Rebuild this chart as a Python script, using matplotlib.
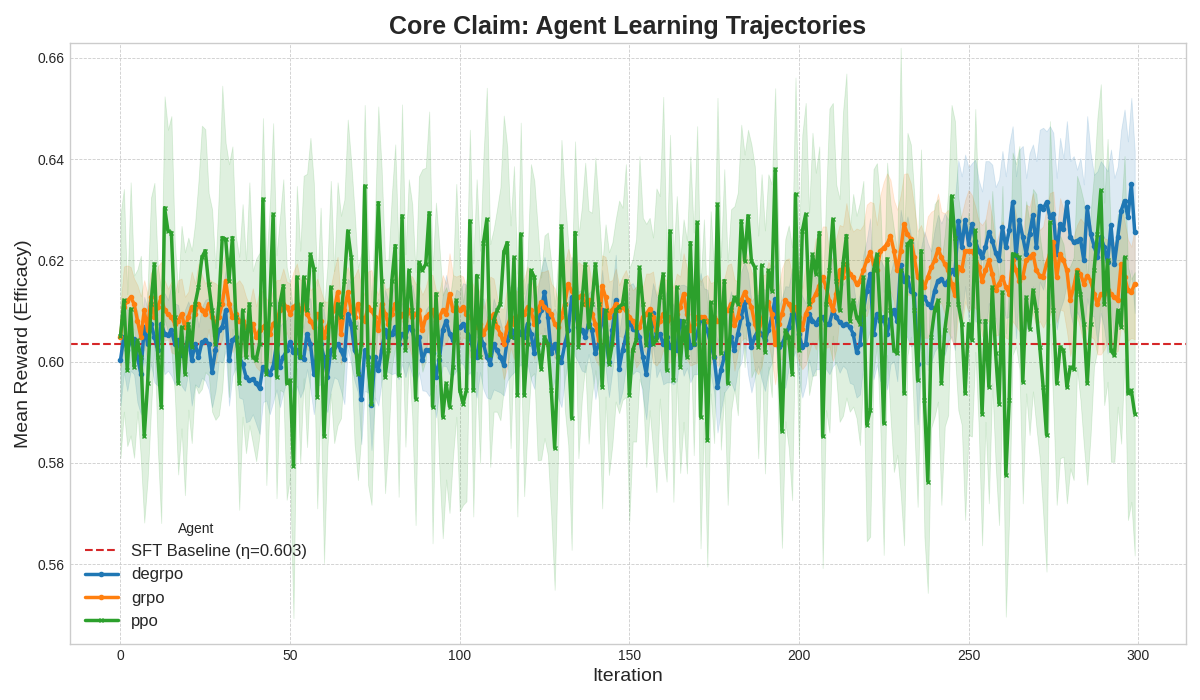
import matplotlib.pyplot as plt
import numpy as np

# iterations 0..299
iterations = np.arange(300)

sft_baseline = 0.6034

# mean reward per iteration
degrpo_mean = [
    0.6003, 0.6049, 0.6022, 0.6042, 0.6045, 0.6009, 0.5976, 0.6068, 0.6035, 0.6075,
    0.6049, 0.6022, 0.6075, 0.6055, 0.6052, 0.6062, 0.6035, 0.6042, 0.6012, 0.6022,
    0.6049, 0.6003, 0.6035, 0.6009, 0.6038, 0.6042, 0.6035, 0.5980, 0.6022, 0.6062,
    0.6068, 0.6101, 0.6003, 0.6042, 0.6049, 0.6009, 0.5996, 0.5970, 0.5963, 0.5966,
    0.5957, 0.5947, 0.5990, 0.5983, 0.5976, 0.5990, 0.6035, 0.5990, 0.6009, 0.6022,
    0.6038, 0.6019, 0.6022, 0.6009, 0.6006, 0.6055, 0.6035, 0.5976, 0.6022, 0.6035,
    0.6009, 0.5970, 0.6022, 0.6029, 0.6035, 0.6022, 0.6006, 0.6094, 0.6075, 0.6022,
    0.6009, 0.5927, 0.6022, 0.6009, 0.5915, 0.6009, 0.5983, 0.6022, 0.6062, 0.6049,
    0.6055, 0.6068, 0.6035, 0.6055, 0.6049, 0.6068, 0.6062, 0.6035, 0.6049, 0.6003,
    0.6022, 0.6022, 0.6016, 0.5970, 0.6003, 0.6062, 0.6081, 0.6055, 0.6042, 0.6062,
    0.6068, 0.6075, 0.6062, 0.6049, 0.6022, 0.6009, 0.6049, 0.6035, 0.6009, 0.5996,
    0.6035, 0.6022, 0.6009, 0.5993, 0.6042, 0.6062, 0.6049, 0.6068, 0.6055, 0.6049,
    0.6075, 0.6055, 0.6016, 0.6081, 0.6101, 0.6137, 0.6088, 0.6016, 0.6035, 0.6009,
    0.6000, 0.6035, 0.6062, 0.6127, 0.6101, 0.6068, 0.6062, 0.6049, 0.6075, 0.6062,
    0.6016, 0.6035, 0.6101, 0.6049, 0.6000, 0.6062, 0.6121, 0.5986, 0.6022, 0.6049,
    0.6081, 0.6065, 0.6062, 0.6049, 0.6009, 0.5976, 0.6035, 0.6095, 0.6049, 0.6055,
    0.6035, 0.6049, 0.6029, 0.6035, 0.6022, 0.6081, 0.6062, 0.6068, 0.6029, 0.6035,
    0.6055, 0.6085, 0.6075, 0.6062, 0.6035, 0.6009, 0.5950, 0.5983, 0.6009, 0.6029,
    0.6049, 0.6022, 0.6055, 0.6088, 0.6117, 0.6075, 0.6029, 0.6049, 0.6062, 0.6055,
    0.6042, 0.6062, 0.6088, 0.6124, 0.6029, 0.6035, 0.6049, 0.6068, 0.6094, 0.6101,
    0.6055, 0.6029, 0.6035, 0.6094, 0.6081, 0.6075, 0.6085, 0.6088, 0.6075, 0.6075,
    0.6101, 0.6088, 0.6078, 0.6072, 0.6075, 0.6068, 0.6055, 0.6019, 0.6035, 0.6101,
    0.6140, 0.6173, 0.6055, 0.6094, 0.6081, 0.6088, 0.6055, 0.6085, 0.6101, 0.6081,
    0.6190, 0.6160, 0.6167, 0.6140, 0.6134, 0.5996, 0.6114, 0.6127, 0.6114, 0.6108,
    0.6140, 0.6160, 0.6163, 0.6153, 0.6160, 0.6180, 0.6173, 0.6278, 0.6226, 0.6279,
    0.6233, 0.6272, 0.6239, 0.6219, 0.6206, 0.6226, 0.6256, 0.6239, 0.6215, 0.6200,
    0.6266, 0.6226, 0.6259, 0.6315, 0.6206, 0.6279, 0.6246, 0.6213, 0.6252, 0.6289,
    0.6226, 0.6308, 0.6302, 0.6315, 0.6285, 0.6292, 0.6213, 0.6272, 0.6262, 0.6315,
    0.6246, 0.6236, 0.6239, 0.6242, 0.6200, 0.6305, 0.6252, 0.6229, 0.6206, 0.6246,
    0.6226, 0.6196, 0.6269, 0.6193, 0.6246, 0.6298, 0.6318, 0.6285, 0.6351, 0.6256,
]

grpo_mean = [
    0.6049, 0.6108, 0.6120, 0.6127, 0.6114, 0.6081, 0.6049, 0.6101, 0.6062, 0.6127,
    0.6088, 0.6108, 0.6127, 0.6101, 0.6094, 0.6088, 0.6075, 0.6081, 0.6094, 0.6068,
    0.6088, 0.6108, 0.6094, 0.6114, 0.6101, 0.6094, 0.6114, 0.6088, 0.6075, 0.6088,
    0.6114, 0.6160, 0.6114, 0.6088, 0.6094, 0.6081, 0.6081, 0.6068, 0.6062, 0.6075,
    0.6049, 0.6062, 0.6068, 0.6075, 0.6055, 0.6075, 0.6081, 0.6101, 0.6114, 0.6108,
    0.6094, 0.6108, 0.6114, 0.6101, 0.6114, 0.6094, 0.6081, 0.6068, 0.6094, 0.6081,
    0.6049, 0.6068, 0.6088, 0.6101, 0.6137, 0.6055, 0.6101, 0.6137, 0.6101, 0.6088,
    0.6114, 0.6088, 0.6081, 0.6108, 0.6101, 0.6088, 0.6062, 0.6114, 0.6094, 0.6075,
    0.6094, 0.6114, 0.6088, 0.6094, 0.6081, 0.6101, 0.6088, 0.6094, 0.6101, 0.6062,
    0.6088, 0.6094, 0.6101, 0.6081, 0.6088, 0.6101, 0.6094, 0.6134, 0.6101, 0.6108,
    0.6101, 0.6108, 0.6094, 0.6088, 0.6081, 0.6068, 0.6075, 0.6055, 0.6068, 0.6088,
    0.6094, 0.6068, 0.6055, 0.6035, 0.6068, 0.6088, 0.6075, 0.6088, 0.6094, 0.6094,
    0.6108, 0.6101, 0.6075, 0.6101, 0.6117, 0.6108, 0.6101, 0.6094, 0.6075, 0.6068,
    0.6088, 0.6114, 0.6153, 0.6140, 0.6127, 0.6127, 0.6131, 0.6114, 0.6121, 0.6094,
    0.6075, 0.6042, 0.6150, 0.6127, 0.6088, 0.6101, 0.6114, 0.6101, 0.6108, 0.6101,
    0.6088, 0.6081, 0.6068, 0.6068, 0.6088, 0.6094, 0.6104, 0.6088, 0.6062, 0.6081,
    0.6094, 0.6081, 0.6088, 0.6075, 0.6094, 0.6108, 0.6134, 0.6094, 0.6062, 0.6075,
    0.6088, 0.6088, 0.6088, 0.6081, 0.6075, 0.6088, 0.6081, 0.6081, 0.6094, 0.6101,
    0.6114, 0.6072, 0.6088, 0.6121, 0.6137, 0.6121, 0.6108, 0.6075, 0.6055, 0.6081,
    0.6101, 0.6117, 0.6094, 0.6035, 0.6075, 0.6094, 0.6121, 0.6114, 0.6101, 0.6108,
    0.6088, 0.6065, 0.6094, 0.6108, 0.6121, 0.6134, 0.6150, 0.6167, 0.6147, 0.6120,
    0.6101, 0.6134, 0.6180, 0.6167, 0.6193, 0.6173, 0.6167, 0.6153, 0.6160, 0.6180,
    0.6200, 0.6216, 0.6193, 0.6180, 0.6219, 0.6225, 0.6232, 0.6249, 0.6219, 0.6180,
    0.6219, 0.6271, 0.6252, 0.6242, 0.6206, 0.6167, 0.6160, 0.6147, 0.6167, 0.6186,
    0.6200, 0.6222, 0.6206, 0.6193, 0.6180, 0.6153, 0.6131, 0.6186, 0.6180, 0.6219,
    0.6219, 0.6219, 0.6206, 0.6187, 0.6160, 0.6180, 0.6200, 0.6173, 0.6141, 0.6154,
    0.6167, 0.6147, 0.6134, 0.6200, 0.6180, 0.6160, 0.6167, 0.6200, 0.6206, 0.6213,
    0.6180, 0.6170, 0.6167, 0.6193, 0.6213, 0.6236, 0.6167, 0.6213, 0.6200, 0.6180,
    0.6121, 0.6147, 0.6180, 0.6173, 0.6154, 0.6170, 0.6160, 0.6134, 0.6114, 0.6134,
    0.6134, 0.6141, 0.6134, 0.6127, 0.6121, 0.6193, 0.6167, 0.6141, 0.6137, 0.6154,
]

ppo_mean = [
    0.6050, 0.6121, 0.5983, 0.6104, 0.5990, 0.6042, 0.6009, 0.5852, 0.5957, 0.6114,
    0.6193, 0.6009, 0.5911, 0.6304, 0.6258, 0.6255, 0.6088, 0.5957, 0.6068, 0.5976,
    0.6075, 0.6029, 0.6114, 0.6147, 0.6206, 0.6219, 0.6153, 0.6101, 0.6035, 0.6114,
    0.6245, 0.6242, 0.6160, 0.6245, 0.6088, 0.5957, 0.6101, 0.6009, 0.6114, 0.6009,
    0.6003, 0.6035, 0.6321, 0.5976, 0.6114, 0.6291, 0.5970, 0.6114, 0.6150, 0.5957,
    0.5963, 0.5793, 0.6167, 0.6009, 0.6167, 0.6101, 0.6212, 0.6183, 0.5930, 0.6114,
    0.5852, 0.6009, 0.6147, 0.6009, 0.6114, 0.6088, 0.6160, 0.6258, 0.6206, 0.6068,
    0.5976, 0.6035, 0.6347, 0.5996, 0.5917, 0.6114, 0.6314, 0.6160, 0.5970, 0.6022,
    0.6160, 0.6229, 0.5973, 0.6288, 0.6022, 0.6180, 0.6101, 0.5927, 0.6196, 0.6180,
    0.6193, 0.6294, 0.5911, 0.6134, 0.6009, 0.5891, 0.5957, 0.5911, 0.5990, 0.6121,
    0.5944, 0.5917, 0.5944, 0.6278, 0.5944, 0.6170, 0.6009, 0.6235, 0.6281, 0.6012,
    0.6081, 0.6101, 0.6114, 0.6216, 0.6235, 0.6049, 0.6206, 0.5934, 0.6252, 0.5934,
    0.6035, 0.6180, 0.6167, 0.6035, 0.5986, 0.6049, 0.6035, 0.5944, 0.5829, 0.6009,
    0.6268, 0.6114, 0.6035, 0.5888, 0.6255, 0.6029, 0.6114, 0.6193, 0.6068, 0.6114,
    0.6193, 0.6114, 0.5950, 0.6101, 0.5996, 0.6035, 0.6101, 0.6108, 0.6114, 0.6160,
    0.5934, 0.6022, 0.6042, 0.6186, 0.6114, 0.6032, 0.6094, 0.6035, 0.6042, 0.6127,
    0.6173, 0.5983, 0.6258, 0.5963, 0.6147, 0.5990, 0.6081, 0.6009, 0.6235, 0.6035,
    0.6275, 0.5891, 0.6081, 0.5845, 0.6117, 0.6009, 0.6311, 0.6016, 0.6160, 0.5957,
    0.6101, 0.6127, 0.6114, 0.6278, 0.6199, 0.6288, 0.6199, 0.6186, 0.6029, 0.6190,
    0.6019, 0.6180, 0.6140, 0.6380, 0.6035, 0.5862, 0.6062, 0.6049, 0.5976, 0.6331,
    0.6022, 0.6258, 0.6291, 0.6114, 0.6212, 0.6173, 0.6255, 0.5852, 0.6114, 0.6180,
    0.6281, 0.6160, 0.6101, 0.6193, 0.6249, 0.6081, 0.6121, 0.6088, 0.6075, 0.6167,
    0.5875, 0.5904, 0.6180, 0.6212, 0.6088, 0.5878, 0.6203, 0.6101, 0.6022, 0.6016,
    0.6180, 0.5937, 0.6232, 0.6239, 0.6101, 0.5963, 0.6219, 0.5924, 0.5763, 0.6049,
    0.6101, 0.6121, 0.5957, 0.6062, 0.6114, 0.6327, 0.6245, 0.6114, 0.6075, 0.5937,
    0.6075, 0.6042, 0.6259, 0.6081, 0.5897, 0.6081, 0.5950, 0.6147, 0.6016, 0.5917,
    0.6137, 0.5776, 0.5924, 0.6213, 0.6210, 0.6206, 0.5960, 0.6127, 0.6065, 0.6141,
    0.6101, 0.6029, 0.5950, 0.5855, 0.6275, 0.6101, 0.5957, 0.6029, 0.6022, 0.5950,
    0.5989, 0.5986, 0.6177, 0.6134, 0.6075, 0.5957, 0.6075, 0.6180, 0.6252, 0.6338,
    0.6114, 0.6200, 0.6022, 0.6012, 0.6101, 0.6068, 0.6206, 0.5937, 0.5943, 0.5897,
]

# spread (std) per iteration, in thousandths
degrpo_sd = [
    9, 7, 8, 6, 7, 9, 8, 6, 7, 8, 9, 7, 6, 8, 7, 9, 8, 7, 6, 8,
    7, 9, 8, 6, 7, 8, 9, 7, 8, 6, 7, 8, 9, 7, 6, 8, 7, 9, 8, 7,
    8, 9, 7, 6, 8, 7, 9, 8, 7, 6, 8, 9, 7, 8, 6, 7, 9, 8, 7, 8,
    9, 7, 8, 6, 7, 8, 9, 7, 8, 6, 7, 9, 8, 7, 9, 8, 7, 6, 8, 7,
    8, 9, 7, 6, 8, 7, 9, 8, 7, 6, 8, 9, 7, 8, 6, 7, 9, 8, 7, 8,
    7, 8, 9, 7, 6, 8, 7, 9, 8, 7, 9, 8, 7, 6, 8, 9, 7, 8, 6, 7,
    8, 9, 7, 6, 8, 7, 9, 8, 7, 8, 9, 7, 6, 8, 9, 7, 8, 7, 6, 8,
    9, 7, 8, 6, 7, 8, 9, 7, 8, 6, 7, 9, 8, 7, 8, 9, 7, 6, 8, 7,
    8, 9, 7, 8, 6, 7, 9, 8, 7, 6, 8, 9, 7, 8, 6, 7, 9, 8, 7, 8,
    9, 8, 7, 9, 8, 10, 9, 8, 7, 9, 10, 8, 9, 7, 8, 9, 10, 8, 9, 8,
    9, 10, 8, 9, 11, 9, 10, 8, 9, 10, 11, 9, 10, 8, 9, 11, 10, 9, 10, 11,
    10, 11, 9, 10, 12, 10, 11, 9, 10, 12, 11, 10, 12, 11, 10, 12, 11, 13, 12, 11,
    12, 13, 11, 14, 12, 13, 15, 12, 14, 13, 15, 12, 16, 14, 13, 17, 14, 15, 13, 16,
    15, 14, 17, 15, 16, 14, 18, 15, 16, 14, 17, 15, 16, 14, 18, 16, 15, 17, 14, 16,
    15, 17, 14, 16, 15, 18, 16, 14, 17, 15, 16, 18, 15, 17, 14, 16, 18, 15, 17, 16,
]

grpo_sd = [
    6, 8, 7, 6, 5, 7, 8, 6, 7, 5, 6, 8, 7, 6, 5, 7, 6, 8, 7, 6,
    5, 7, 6, 8, 7, 6, 5, 7, 8, 6, 7, 6, 5, 7, 6, 8, 7, 6, 5, 7,
    6, 8, 7, 5, 6, 7, 8, 6, 7, 5, 6, 7, 8, 6, 5, 7, 6, 8, 7, 6,
    7, 5, 6, 8, 7, 6, 7, 5, 6, 8, 7, 6, 5, 7, 8, 6, 7, 6, 5, 7,
    6, 8, 7, 5, 6, 7, 8, 6, 5, 7, 6, 8, 7, 6, 5, 7, 6, 8, 7, 6,
    7, 6, 5, 8, 7, 6, 7, 5, 6, 8, 7, 6, 5, 7, 8, 6, 7, 5, 6, 7,
    8, 6, 7, 5, 6, 7, 8, 6, 7, 5, 6, 8, 7, 6, 5, 7, 6, 8, 7, 6,
    7, 5, 6, 8, 7, 6, 7, 5, 6, 8, 7, 6, 8, 7, 6, 8, 7, 9, 7, 8,
    7, 8, 9, 7, 8, 6, 8, 9, 7, 8, 9, 7, 8, 9, 8, 7, 9, 8, 7, 9,
    8, 9, 7, 8, 9, 8, 7, 9, 8, 9, 7, 8, 9, 8, 7, 9, 8, 9, 7, 8,
    9, 8, 10, 9, 8, 11, 9, 10, 12, 9, 10, 11, 9, 10, 12, 10, 9, 11, 10, 9,
    11, 10, 12, 9, 11, 13, 14, 11, 10, 12, 11, 10, 12, 11, 10, 9, 11, 10, 12, 11,
    10, 11, 9, 10, 12, 11, 10, 9, 11, 10, 12, 11, 10, 9, 11, 10, 12, 11, 9, 10,
    11, 10, 9, 12, 11, 10, 9, 11, 10, 12, 11, 9, 10, 11, 12, 10, 9, 11, 10, 12,
    11, 10, 9, 11, 12, 10, 11, 9, 10, 12, 11, 10, 9, 11, 10, 12, 11, 10, 9, 11,
]

ppo_sd = [
    24, 22, 15, 25, 18, 14, 20, 17, 19, 21, 16, 18, 23, 22, 20, 23, 15, 18, 20, 24,
    17, 19, 16, 21, 26, 24, 18, 20, 15, 22, 30, 19, 23, 18, 16, 25, 21, 19, 24, 17,
    20, 18, 16, 22, 19, 18, 24, 17, 21, 23, 19, 30, 18, 21, 20, 27, 23, 17, 22, 19,
    25, 18, 21, 17, 24, 20, 16, 22, 19, 23, 21, 18, 16, 24, 20, 17, 19, 22, 23, 18,
    17, 20, 24, 22, 19, 18, 21, 25, 17, 20, 19, 20, 27, 18, 22, 24, 19, 21, 18, 23,
    24, 20, 22, 18, 25, 19, 21, 17, 26, 22, 18, 20, 23, 27, 19, 22, 18, 24, 22, 20,
    17, 21, 19, 23, 18, 20, 22, 25, 28, 19, 17, 21, 20, 26, 18, 22, 19, 20, 23, 18,
    21, 19, 24, 17, 22, 20, 18, 21, 19, 23, 25, 18, 20, 22, 17, 24, 19, 21, 30, 20,
    35, 22, 19, 24, 18, 21, 20, 23, 17, 22, 19, 26, 20, 25, 18, 17, 21, 19, 22, 24,
    20, 18, 22, 19, 21, 17, 23, 20, 22, 18, 24, 19, 21, 16, 20, 23, 18, 22, 25, 23,
    21, 19, 22, 18, 24, 20, 17, 26, 21, 32, 23, 19, 22, 30, 32, 18, 21, 20, 24, 19,
    23, 25, 20, 18, 22, 26, 19, 21, 24, 20, 44, 30, 22, 19, 23, 25, 20, 27, 22, 18,
    21, 20, 24, 19, 22, 18, 23, 21, 20, 25, 22, 19, 24, 21, 26, 20, 23, 19, 22, 24,
    21, 28, 23, 20, 18, 22, 24, 19, 21, 20, 23, 22, 25, 27, 20, 19, 24, 22, 21, 23,
    20, 22, 19, 21, 24, 20, 22, 19, 23, 21, 20, 24, 22, 21, 19, 23, 20, 25, 22, 28,
]

agents = ["degrpo", "grpo", "ppo"]
colors = ["#1f77b4", "#ff7f0e", "#2ca02c"]
markers = ["o", "o", "x"]

plt.style.use("seaborn-v0_8-whitegrid")
plt.rcParams["font.family"] = ["Liberation Sans", "DejaVu Sans"]

fig, ax = plt.subplots(figsize=(12, 7), dpi=100)
fig.subplots_adjust(left=0.058, right=0.988, top=0.939, bottom=0.08)

ax.axhline(sft_baseline, color="#d62728", ls="--", lw=1.5,
           label=f"SFT Baseline (η={sft_baseline:.3f})")

series = [(degrpo_mean, degrpo_sd), (grpo_mean, grpo_sd), (ppo_mean, ppo_sd)]
for name, (mean, sd), c, mk in zip(agents, series, colors, markers):
    m = np.array(mean)
    s = np.array(sd) / 1000
    ax.fill_between(iterations, m - s, m + s, color=c, alpha=0.15, lw=0.6)
    ax.plot(iterations, m, color=c, lw=2.5, marker=mk, ms=3, mew=1, label=name)

ax.set_xlim(-15, 314)
ax.set_ylim(0.5442, 0.663)
ax.set_yticks([0.56, 0.58, 0.60, 0.62, 0.64, 0.66])
ax.grid(True, ls="--", lw=0.6, color="#cccccc")
for sp in ax.spines.values():
    sp.set_color("#cccccc")

ax.set_title("Core Claim: Agent Learning Trajectories", fontsize=18, fontweight="bold")
ax.set_xlabel("Iteration", fontsize=14)
ax.set_ylabel("Mean Reward (Efficacy)", fontsize=14)
ax.tick_params(labelsize=10)

ax.legend(title="Agent", loc="lower left", fontsize=12, title_fontsize=10, frameon=False)

fig.savefig("out.png", dpi=100)
